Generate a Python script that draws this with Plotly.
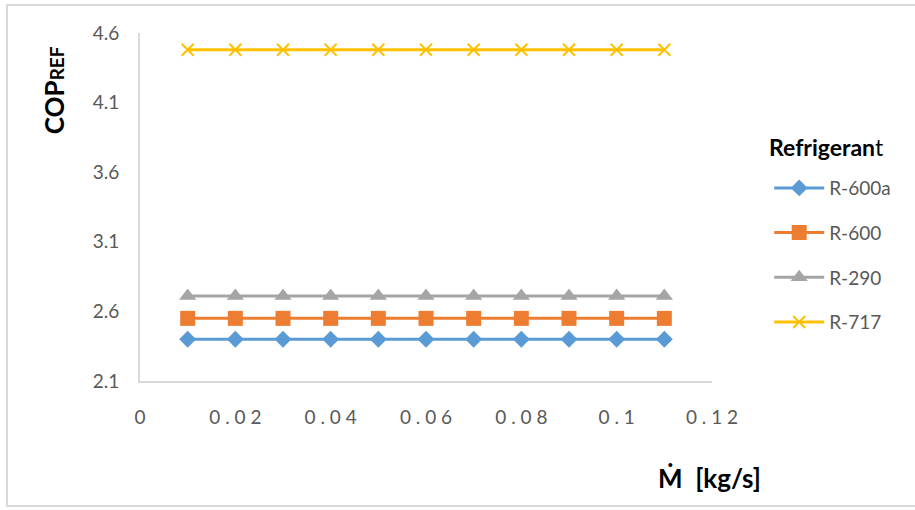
import plotly.graph_objects as go

mass_flow = [0.01, 0.02, 0.03, 0.04, 0.05, 0.06, 0.07, 0.08, 0.09, 0.10, 0.11]
cop_r600a = [2.40] * 11
cop_r600 = [2.55] * 11
cop_r290 = [2.71] * 11
cop_r717 = [4.48] * 11

x_ticks = [0, 0.02, 0.04, 0.06, 0.08, 0.1, 0.12]
x_tick_labels = ["0", "0.02", "0.04", "0.06", "0.08", "0.1", "0.12"]
y_ticks = [2.1, 2.6, 3.1, 3.6, 4.1, 4.6]

series = [
    ("R-600a", cop_r600a, "#5B9BD5", "diamond", 13),
    ("R-600", cop_r600, "#ED7D31", "square", 15),
    ("R-290", cop_r290, "#A5A5A5", "triangle-up", 15),
    ("R-717", cop_r717, "#FFC000", "x-thin-open", 12),
]

fig = go.Figure()
for i, (name, vals, color, sym, size) in enumerate(series):
    fig.add_trace(go.Scatter(
        x=mass_flow, y=vals, name=name, mode="lines+markers",
        legendgroup=str(i),
        line=dict(color=color, width=3),
        marker=dict(symbol=sym, size=size, color=color,
                    line=dict(color=color, width=2 if sym.startswith("x") else 0)),
    ))

spaced = [" ".join(list(t)) for t in x_tick_labels]

fig.update_layout(
    width=915, height=510,
    margin=dict(l=140, r=203, t=33, b=129),
    paper_bgcolor="white", plot_bgcolor="white",
    font=dict(family="Lato, Open Sans, sans-serif", color="#595959", size=18),
    xaxis=dict(range=[0, 0.12], tickvals=x_ticks, ticktext=spaced,
               showgrid=False, zeroline=False, showline=True,
               linecolor="#D9D9D9", linewidth=2, ticks="outside",
               ticklen=18, tickcolor="rgba(0,0,0,0)",
               tickfont=dict(size=19, color="#595959")),
    yaxis=dict(range=[2.1, 4.6], tickvals=y_ticks,
               tickformat=".1f",
               showgrid=False, zeroline=False, showline=True,
               linecolor="#D9D9D9", linewidth=2, ticks="outside",
               ticklen=15, tickcolor="rgba(0,0,0,0)",
               tickfont=dict(size=19, color="#595959")),
    legend=dict(
        x=1.1, y=0.609, xanchor="left", yanchor="top",
        font=dict(size=19, color="#595959"),
        tracegroupgap=17, bgcolor="rgba(0,0,0,0)",
        itemwidth=50,
    ),
    shapes=[dict(type="rect", xref="paper", yref="paper",
                 x0=-0.2325, x1=1.36, y0=-0.359, y1=1.0805,
                 line=dict(color="#D9D9D9", width=2))],
    annotations=[
        dict(text="<b>COP<span style='font-size:19px'>REF</span></b>",
             textangle=-90, xref="paper", yref="paper",
             x=-0.150, y=0.836, xanchor="center", yanchor="middle",
             showarrow=False, font=dict(size=26, color="black")),
        dict(text="<b>Ṁ\u00a0\u00a0[kg/s]</b>", xref="paper", yref="paper",
             x=0.9965, y=-0.279, xanchor="center", yanchor="middle",
             showarrow=False, font=dict(size=26, color="black")),
        dict(text="<b>Refrigeran</b>t", xref="paper", yref="paper",
             x=1.097, y=1 - (147 - 33) / 348, xanchor="left", yanchor="middle",
             showarrow=False, font=dict(size=23, color="black")),
    ],
)

fig.write_html("out.html")
